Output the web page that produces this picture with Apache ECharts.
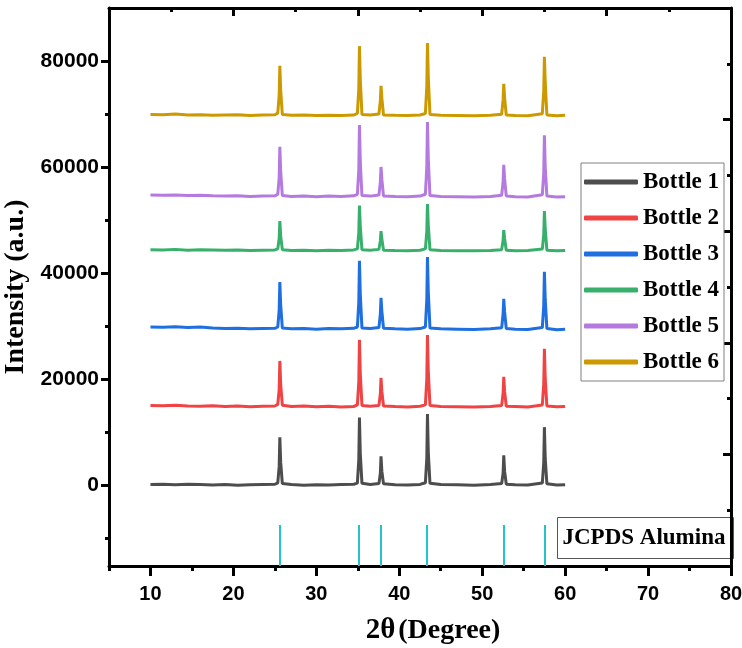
<!DOCTYPE html>
<html>
<head>
<meta charset="utf-8">
<script src="https://cdn.jsdelivr.net/npm/echarts@6/dist/echarts.min.js"></script>
<style>
  html, body { margin: 0; padding: 0; background: #fff; }
  #chart { width: 742px; height: 648px; }
</style>
</head>
<body>
<div id="chart"></div>
<script>
// 2θ sampling points (degree)
const twoTheta = [
  10, 11.5, 13, 14.5, 16, 17.5, 19, 20.5, 22, 23.5,
  25.0, 25.35, 25.52, 25.6, 25.7, 25.9,
  27, 28.5, 30, 31.5, 33, 34.5,
  34.95, 35.12, 35.2, 35.3, 35.5,
  36.5,
  37.55, 37.72, 37.8, 37.9, 38.1,
  39.5, 41, 42.5,
  43.15, 43.32, 43.4, 43.5, 43.7,
  45, 47, 49, 51,
  52.35, 52.52, 52.6, 52.7, 52.9,
  54, 55.5,
  57.25, 57.42, 57.5, 57.6, 57.8,
  59, 60
];

// intensity of each bottle (a.u.), already offset as stacked in the figure
const bottle1 = [
  100, 150, 50, 120, 80, 0, 60, -50, 40, 90,
  120, 400, 3500, 9000, 4300, 250,
  60, -40, 50, 0, 80, 130,
  350, 4800, 12700, 5900, 300,
  100,
  250, 2200, 5400, 2600, 200,
  50, -30, 100,
  400, 5000, 13400, 6200, 300,
  80, 20, -40, 60,
  250, 2200, 5600, 2600, 150,
  50, 0,
  350, 4200, 10900, 5000, 200,
  -20, 50
];
const bottle2 = [
  15000, 14950, 15050, 14900, 14850, 14950, 14800, 14900, 14750, 14850,
  14900, 15200, 18000, 23400, 19000, 15050,
  14800, 14900, 14750, 14850, 14700, 14800,
  15100, 19500, 27400, 21000, 15000,
  14850,
  15000, 17200, 20200, 17600, 14900,
  14800, 14700, 14850,
  15100, 20000, 28300, 21500, 15000,
  14800, 14750, 14700, 14800,
  15000, 17300, 20400, 17700, 14850,
  14800, 14700,
  15100, 19000, 25700, 20000, 14900,
  14750, 14800
];
const bottle3 = [
  29800, 29750, 29850, 29700, 29800, 29600, 29500, 29550, 29450, 29500,
  29550, 29800, 33000, 38300, 34000, 29600,
  29450, 29500, 29400, 29500, 29450, 29550,
  29800, 34500, 42300, 36000, 29600,
  29500,
  29700, 32300, 35300, 32800, 29550,
  29450, 29400, 29500,
  29800, 35000, 43000, 36500, 29600,
  29450, 29400, 29350, 29450,
  29650, 32300, 35100, 32700, 29500,
  29400, 29350,
  29700, 33800, 40200, 35000, 29500,
  29300, 29400
];
const bottle4 = [
  44400, 44350, 44450, 44300, 44400, 44350, 44300, 44350, 44250, 44300,
  44350, 44550, 46500, 49800, 47000, 44400,
  44250, 44300, 44200, 44300, 44250, 44350,
  44550, 47600, 52700, 48800, 44400,
  44300,
  44450, 46100, 47900, 46400, 44300,
  44250, 44200, 44300,
  44550, 47800, 53000, 49000, 44400,
  44250, 44200, 44200, 44250,
  44400, 46200, 48100, 46500, 44300,
  44200, 44250,
  44500, 47200, 51700, 48300, 44300,
  44200, 44250
];
const bottle5 = [
  54700, 54650, 54700, 54600, 54650, 54550, 54500, 54550, 54450, 54500,
  54550, 54850, 58000, 63800, 59200, 54600,
  54450, 54500, 54400, 54500, 54450, 54550,
  54850, 59500, 67900, 61000, 54600,
  54500,
  54700, 57200, 60000, 57700, 54500,
  54450, 54400, 54500,
  54850, 60000, 68500, 61500, 54600,
  54450, 54400, 54350, 54450,
  54650, 57300, 60400, 57800, 54500,
  54400, 54350,
  54750, 58800, 66000, 60000, 54500,
  54350, 54400
];
const bottle6 = [
  69900, 69850, 70000, 69800, 69850, 69750, 69800, 69850, 69700, 69800,
  69850, 70150, 73500, 79100, 74500, 69900,
  69750, 69800, 69700, 69750, 69700, 69800,
  70100, 74800, 82800, 76500, 69900,
  69800,
  70000, 72500, 75300, 73000, 69800,
  69750, 69700, 69800,
  70100, 75200, 83400, 77000, 69900,
  69750, 69700, 69650, 69750,
  69950, 72700, 75700, 73100, 69800,
  69700, 69650,
  70050, 74300, 80800, 76000, 69800,
  69650, 69750
];

const bottleNames = ['Bottle 1', 'Bottle 2', 'Bottle 3', 'Bottle 4', 'Bottle 5', 'Bottle 6'];
const bottleColors = ['#4d4d4d', '#f04343', '#1f6fe0', '#38b06c', '#b57ae0', '#cc9900'];
const bottles = [bottle1, bottle2, bottle3, bottle4, bottle5, bottle6];

// JCPDS alumina reference lines
const jcpdsPos = [25.58, 35.15, 37.78, 43.36, 52.55, 57.5];
const stickTop = -7550;

// axes
const xMin = 5, xMax = 80;
const yMin = -15300, yMax = 90000;
const xMajor = [10, 20, 30, 40, 50, 60, 70, 80];
const xMinor = [5, 15, 25, 35, 45, 55, 65, 75];
const yMajor = [0, 20000, 40000, 60000, 80000];
const yMinor = [-10000, 10000, 30000, 50000, 70000];

const serif = 'Liberation Serif';
const sans = 'Liberation Sans';

let chart = echarts.init(document.getElementById('chart'));

let series = bottles.map(function (b, k) {
  return {
    name: bottleNames[k],
    type: 'line',
    data: twoTheta.map((x, i) => [x, b[i]]),
    showSymbol: false,
    symbol: 'none',
    lineStyle: { color: bottleColors[k], width: 3 },
    itemStyle: { color: bottleColors[k] },
    z: 2
  };
});

series.push({
  name: 'JCPDS',
  type: 'line',
  data: [],
  markLine: {
    silent: true,
    symbol: 'none',
    label: { show: false },
    lineStyle: { color: '#22c4c8', width: 2, type: 'solid' },
    data: jcpdsPos.map(p => [{ coord: [p, yMin] }, { coord: [p, stickTop] }])
  }
});

const plain = v => String(v);

option = {
  animation: false,
  textStyle: { fontFamily: serif },
  grid: { left: 109, right: 11, top: 8, bottom: 82, outerBoundsMode: 'none', containLabel: false },
  legend: {
    data: bottleNames,
    orient: 'vertical',
    left: 581,
    top: 163,
    padding: [6, 5, 6, 3],
    itemGap: 10,
    itemWidth: 54,
    itemHeight: 5,
    icon: 'roundRect',
    borderColor: '#808080',
    borderWidth: 1,
    backgroundColor: '#fff',
    textStyle: { fontFamily: serif, fontWeight: 'bold', fontSize: 23, color: '#000', lineHeight: 26 }
  },
  xAxis: [
    {
      type: 'value',
      position: 'bottom',
      min: xMin, max: xMax,
      axisLine: { show: true, onZero: false, lineStyle: { color: '#000', width: 3 } },
      axisTick: { show: true, customValues: xMajor, length: 10, lineStyle: { width: 3, color: '#000' } },
      axisLabel: { customValues: xMajor, formatter: plain, margin: 18, fontFamily: sans, fontWeight: 'bold', fontSize: 20, color: '#000' },
      splitLine: { show: false },
      name: '{a|2θ} {b|(Degree)}',
      nameLocation: 'middle',
      nameGap: 50,
      nameTextStyle: {
        padding: [0, 0, 0, 26],
        rich: {
          a: { fontFamily: serif, fontWeight: 'bold', fontSize: 29, color: '#000' },
          b: { fontFamily: serif, fontWeight: 'bold', fontSize: 28, color: '#000' }
        }
      }
    },
    {
      type: 'value',
      position: 'bottom',
      min: xMin, max: xMax,
      axisLine: { show: false, onZero: false },
      axisTick: { show: true, customValues: xMinor, length: 5, lineStyle: { width: 3, color: '#000' } },
      axisLabel: { show: false },
      splitLine: { show: false }
    },
    {
      type: 'value',
      position: 'top',
      min: 0, max: 5, interval: 1,
      axisLine: { show: true, onZero: false, lineStyle: { color: '#000', width: 3 } },
      axisTick: { show: true, inside: true, length: 8, lineStyle: { width: 3, color: '#000' } },
      minorTick: { show: true, splitNumber: 2, length: 4, lineStyle: { width: 3, color: '#000' } },
      axisLabel: { show: false },
      splitLine: { show: false }
    }
  ],
  yAxis: [
    {
      type: 'value',
      position: 'left',
      min: yMin, max: yMax,
      axisLine: { show: true, onZero: false, lineStyle: { color: '#000', width: 3 } },
      axisTick: { show: true, customValues: yMajor, length: 8, lineStyle: { width: 3, color: '#000' } },
      axisLabel: { customValues: yMajor, formatter: plain, margin: 10, fontFamily: sans, fontWeight: 'bold', fontSize: 21, color: '#000' },
      splitLine: { show: false },
      name: 'Intensity (a.u.)',
      nameLocation: 'middle',
      nameGap: 67,
      nameTextStyle: { fontFamily: serif, fontWeight: 'bold', fontSize: 28, color: '#000' }
    },
    {
      type: 'value',
      position: 'left',
      min: yMin, max: yMax,
      axisLine: { show: false, onZero: false },
      axisTick: { show: true, customValues: yMinor, length: 4, lineStyle: { width: 3, color: '#000' } },
      axisLabel: { show: false },
      splitLine: { show: false }
    },
    {
      type: 'value',
      position: 'right',
      min: 0, max: 5, interval: 1,
      axisLine: { show: true, onZero: false, lineStyle: { color: '#000', width: 3 } },
      axisTick: { show: true, inside: true, length: 8, lineStyle: { width: 3, color: '#000' } },
      minorTick: { show: true, splitNumber: 2, length: 4, lineStyle: { width: 3, color: '#000' } },
      axisLabel: { show: false },
      splitLine: { show: false }
    }
  ],
  graphic: [
    {
      type: 'group',
      left: 557,
      top: 517,
      z: 1,
      children: [
        { type: 'rect', shape: { x: 0, y: 0, width: 176, height: 41 }, style: { fill: '#fff', stroke: '#555', lineWidth: 1 } },
        { type: 'text', x: 5, y: 21, style: { text: 'JCPDS Alumina', fill: '#000', font: 'bold 23px "Liberation Serif"', textVerticalAlign: 'middle', verticalAlign: 'middle' } }
      ]
    }
  ],
  series: series
};

chart.setOption(option);
</script>
</body>
</html>
